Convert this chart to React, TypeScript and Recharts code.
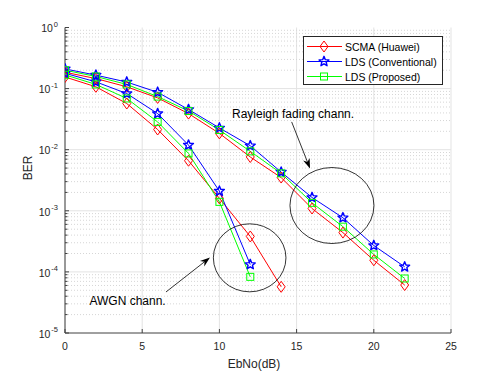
import React from 'react'
import { LineChart, Line, XAxis, YAxis, CartesianGrid, ReferenceLine, ReferenceDot } from 'recharts'

// EbNo (dB) points
const ebno = [0, 2, 4, 6, 8, 10, 12, 14, 16, 18, 20, 22]

// Rayleigh fading channel
const rayScma = [0.185, 0.146, 0.107, 0.0705, 0.039, 0.0185, 0.0076, 0.0035, 0.00109, 0.00044, 0.000155, 0.000061]
const rayLdsConv = [0.21, 0.166, 0.128, 0.087, 0.0455, 0.0227, 0.0116, 0.0043, 0.00165, 0.00077, 0.00027, 0.000121]
const rayLdsProp = [0.2, 0.158, 0.117, 0.074, 0.043, 0.021, 0.0094, 0.0041, 0.00135, 0.00055, 0.000193, 0.000078]

// AWGN channel
const awgnScma = [0.155, 0.107, 0.057, 0.0214, 0.0066, 0.0016, 0.00038, 0.000057]
const awgnLdsConv = [0.178, 0.129, 0.083, 0.039, 0.0119, 0.0021, 0.000132]
const awgnLdsProp = [0.168, 0.117, 0.069, 0.0285, 0.0087, 0.0014, 0.000083]

const xTicks = [0, 5, 10, 15, 20, 25]
const decades = [1e-5, 1e-4, 1e-3, 1e-2, 1e-1, 1]
const mantissas = [2, 3, 4, 5, 6, 7, 8, 9]
const minorTicks = decades.slice(0, -1).flatMap((d) => mantissas.map((m) => m * d))
const yTicks = [...decades, ...minorTicks].sort((a, b) => a - b)

const legendItems = [
  { label: 'SCMA (Huawei)', color: '#ff0000', marker: 'diamond' },
  { label: 'LDS (Conventional)', color: '#0000ff', marker: 'star' },
  { label: 'LDS (Proposed)', color: '#00ff00', marker: 'square' },
]

const FONT = '"Liberation Sans", Arial, Helvetica, sans-serif'
const AX = '#404040'
const TXT = '#262626'

const toPoints = (ys: number[]) => ys.map((y, i) => ({ x: ebno[i], y }))

function markerShape(kind: string, cx: number, cy: number, color: string, key?: string) {
  if (kind === 'diamond') {
    return <path key={key} d={`M${cx},${cy - 5.5}L${cx + 4},${cy}L${cx},${cy + 5.5}L${cx - 4},${cy}Z`} fill="none" stroke={color} strokeWidth={1} />
  }
  if (kind === 'square') {
    return <rect key={key} x={cx - 3.5} y={cy - 3.5} width={7} height={7} fill="none" stroke={color} strokeWidth={1} />
  }
  const pts: string[] = []
  for (let k = 0; k < 10; k++) {
    const r = k % 2 === 0 ? 5.2 : 2.3
    const a = -Math.PI / 2 + (k * Math.PI) / 5
    pts.push(`${cx + r * Math.cos(a)},${cy + r * Math.sin(a)}`)
  }
  return <polygon key={key} points={pts.join(' ')} fill="none" stroke={color} strokeWidth={1.4} strokeLinejoin="round" />
}

const dotFor = (kind: string, color: string) => (p: any) =>
  markerShape(kind, p.cx, p.cy, color, `${kind}-${p.index}-${p.cx}`)

const isMajor = (v: number) => Math.abs(Math.log10(v) - Math.round(Math.log10(v))) < 1e-6

const LeftTick = ({ x, y, payload }: any) => {
  const v = payload.value
  const major = isMajor(v)
  return (
    <g>
      <line x1={x} y1={y} x2={x + (major ? 4 : 2.5)} y2={y} stroke={AX} />
      {major && (
        <text x={x - 7} y={y + 4.7} textAnchor="end" fontSize={10.5} fill={TXT} fontFamily={FONT}>
          10
          <tspan dx={1} dy={-5.7} fontSize={7.5}>{Math.round(Math.log10(v))}</tspan>
        </text>
      )}
    </g>
  )
}

const RightTick = ({ x, y, payload }: any) => {
  const major = isMajor(payload.value)
  return <line x1={x} y1={y} x2={x - (major ? 4 : 2.5)} y2={y} stroke={AX} />
}

const BottomTick = ({ x, y, payload }: any) => (
  <g>
    <line x1={x} y1={y} x2={x} y2={y - 4} stroke={AX} />
    <text x={x} y={y + 17} textAnchor="middle" fontSize={10.5} fill={TXT} fontFamily={FONT}>
      {payload.value}
    </text>
  </g>
)

const TopTick = ({ x, y }: any) => <line x1={x} y1={y} x2={x} y2={y + 4} stroke={AX} />

const Arrow = (p: any) => {
  const { x1, y1, x2, y2 } = p
  const a = Math.atan2(y2 - y1, x2 - x1)
  const L = 10
  const W = 3.5
  const bx = x2 - L * Math.cos(a)
  const by = y2 - L * Math.sin(a)
  const nx = x2 - L * 0.7 * Math.cos(a)
  const ny = y2 - L * 0.7 * Math.sin(a)
  const px = -Math.sin(a) * W
  const py = Math.cos(a) * W
  return (
    <g>
      <line x1={x1} y1={y1} x2={nx} y2={ny} stroke="#000" strokeWidth={0.8} />
      <polygon points={`${x2},${y2} ${bx + px},${by + py} ${nx},${ny} ${bx - px},${by - py}`} fill="#000" />
    </g>
  )
}

const ellipse = (rx: number, ry: number) => (p: any) =>
  <ellipse cx={p.cx} cy={p.cy} rx={rx} ry={ry} fill="none" stroke="#000" strokeWidth={0.8} />

const label = (text: string) => (p: any) => (
  <text x={p.cx} y={p.cy + 4} textAnchor="middle" fontSize={12} fill="#000" fontFamily={FONT}>
    {text}
  </text>
)

const series = [
  { key: 'ray-scma', data: rayScma, color: '#ff0000', marker: 'diamond' },
  { key: 'ray-conv', data: rayLdsConv, color: '#0000ff', marker: 'star' },
  { key: 'ray-prop', data: rayLdsProp, color: '#00ff00', marker: 'square' },
  { key: 'awgn-scma', data: awgnScma, color: '#ff0000', marker: 'diamond' },
  { key: 'awgn-conv', data: awgnLdsConv, color: '#0000ff', marker: 'star' },
  { key: 'awgn-prop', data: awgnLdsProp, color: '#00ff00', marker: 'square' },
]

export default function App() {
  return (
    <div style={{ position: 'absolute', left: 0, top: 0, width: 498, height: 374, background: '#fff', fontFamily: FONT }}>
      <LineChart width={498} height={374} margin={{ top: 27.5, right: 47, bottom: 0, left: 0 }}>
        <CartesianGrid horizontal={false} stroke="#e3e3e3" strokeWidth={1} />
        <XAxis
          dataKey="x"
          type="number"
          domain={[0, 25]}
          ticks={xTicks}
          interval={0}
          height={41}
          tickSize={0}
          tickMargin={0}
          tickLine={false}
          tick={<BottomTick />}
          axisLine={{ stroke: AX }}
          allowDataOverflow
        />
        <XAxis
          xAxisId="t"
          orientation="top"
          type="number"
          domain={[0, 25]}
          ticks={xTicks}
          interval={0}
          height={0}
          tickSize={0}
          tickMargin={0}
          tickLine={false}
          tick={<TopTick />}
          axisLine={{ stroke: AX }}
        />
        <YAxis
          type="number"
          scale="log"
          domain={[1e-5, 1]}
          ticks={yTicks}
          interval={0}
          width={65}
          tickSize={0}
          tickMargin={0}
          tickLine={false}
          tick={<LeftTick />}
          axisLine={{ stroke: AX }}
          allowDataOverflow
          label={{ value: 'BER', angle: -90, position: 'insideLeft', offset: 0, dx: 28, fontSize: 12, fill: TXT, fontFamily: FONT }}
        />
        <YAxis
          yAxisId="r"
          orientation="right"
          type="number"
          scale="log"
          domain={[1e-5, 1]}
          ticks={yTicks}
          interval={0}
          width={0}
          tickSize={0}
          tickMargin={0}
          tickLine={false}
          tick={<RightTick />}
          axisLine={{ stroke: AX }}
          allowDataOverflow
        />
        {minorTicks.map((v) => (
          <ReferenceLine key={`m${v}`} y={v} stroke="#d6d6d6" strokeDasharray="1 2" strokeWidth={1} />
        ))}
        {decades.slice(1, -1).map((v) => (
          <ReferenceLine key={`d${v}`} y={v} stroke="#e3e3e3" strokeWidth={1} />
        ))}
        {series.map((s) => (
          <Line
            key={s.key}
            data={toPoints(s.data)}
            dataKey="y"
            stroke={s.color}
            strokeWidth={1}
            dot={dotFor(s.marker, s.color)}
            activeDot={false}
            isAnimationActive={false}
          />
        ))}
        <ReferenceDot x={11.96} y={1.7e-4} r={0} ifOverflow="visible" shape={ellipse(36.3, 34)} />
        <ReferenceDot x={17.29} y={1.22e-3} r={0} ifOverflow="visible" shape={ellipse(42, 38)} />
        <ReferenceDot x={4.05} y={3.34e-5} r={0} ifOverflow="visible" shape={label('AWGN chann.')} />
        <ReferenceDot x={14.77} y={0.0391} r={0} ifOverflow="visible" shape={label('Rayleigh fading chann.')} />
        <ReferenceLine
          segment={[{ x: 6.54, y: 4.69e-5 }, { x: 9.39, y: 1.72e-4 }]}
          ifOverflow="visible"
          shape={Arrow}
        />
        <ReferenceLine
          segment={[{ x: 14.68, y: 0.0285 }, { x: 15.87, y: 4.92e-3 }]}
          ifOverflow="visible"
          shape={Arrow}
        />
      </LineChart>
      <div style={{ position: 'absolute', left: 254, top: 357, transform: 'translateX(-50%)', fontSize: 12, color: TXT, whiteSpace: 'nowrap', lineHeight: '14px' }}>
        EbNo(dB)
      </div>
      <svg width={140} height={49} style={{ position: 'absolute', left: 302.5, top: 35.5 }}>
        <rect x={0.5} y={0.5} width={139} height={48} fill="#fff" stroke={TXT} strokeWidth={1} />
        {legendItems.map((item, i) => {
          const cy = 10.5 + i * 15
          return (
            <g key={item.label}>
              <line x1={4} y1={cy} x2={39} y2={cy} stroke={item.color} strokeWidth={1} />
              {markerShape(item.marker, 21, cy, item.color)}
              <text x={42} y={cy + 4} fontSize={10.5} fill="#000" fontFamily={FONT}>
                {item.label}
              </text>
            </g>
          )
        })}
      </svg>
    </div>
  )
}
